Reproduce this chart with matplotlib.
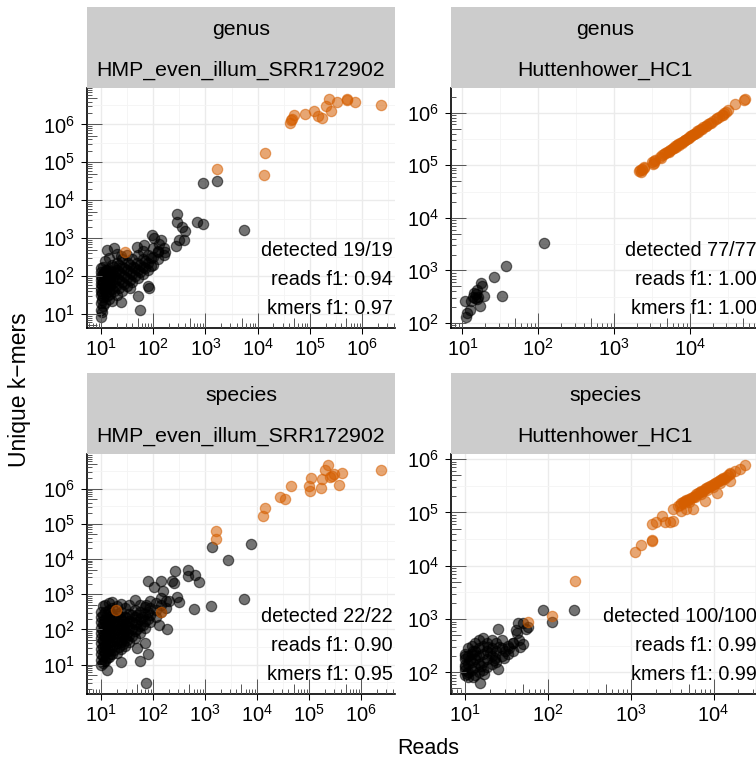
import numpy as np
import matplotlib
matplotlib.use("Agg")
import matplotlib.pyplot as plt
import matplotlib.transforms as mtransforms
from matplotlib.ticker import FixedLocator, FuncFormatter

plt.rcParams['font.family'] = ['Liberation Sans', 'DejaVu Sans']
plt.rcParams['mathtext.fontset'] = 'custom'
plt.rcParams['mathtext.rm'] = 'Liberation Sans'
plt.rcParams['mathtext.it'] = 'Liberation Sans:italic'

# ---------------- data ----------------
ranks = ["genus", "genus", "species", "species"]
samples = ["HMP_even_illum_SRR172902", "Huttenhower_HC1",
           "HMP_even_illum_SRR172902", "Huttenhower_HC1"]
detected = ["detected 19/19", "detected 77/77", "detected 22/22", "detected 100/100"]
reads_f1 = ["reads f1: 0.94", "reads f1: 1.00", "reads f1: 0.90", "reads f1: 0.99"]
kmers_f1 = ["kmers f1: 0.97", "kmers f1: 1.00", "kmers f1: 0.95", "kmers f1: 0.99"]

# (reads, unique k-mers)
tl_black = [
    (910, 28000), (1700, 33000), (5500, 1600), (690, 2600), (910, 2300), (290, 4400),
    (290, 2600), (355, 1950), (415, 1500), (390, 900), (310, 870), (270, 630),
    (96, 1180), (66, 660), (138, 870), (170, 425), (123, 425), (13, 490), (18, 550),
    (49, 600), (24, 345), (82, 48), (80, 56), (50, 30), (57, 13), (24, 21), (10, 8.3),
    (10.5, 11), (36, 50),
    (10, 12.6), (10, 19), (10, 31), (10.2, 40), (10, 50), (10, 63), (10.1, 79), (10, 100),
    (10, 126), (10, 160), (11, 16), (11, 28), (11.2, 45), (11, 71), (11, 112), (11, 178),
    (12, 20), (12.3, 35), (12, 56), (12, 89), (12.4, 141), (12, 250), (14, 25), (14.3, 40),
    (14, 63), (14, 100), (13.8, 158), (14, 300), (16, 22), (16, 45), (16.4, 79), (16, 126),
    (16, 200), (20, 32), (19.5, 56), (20, 89), (20.5, 141), (20, 224), (20, 390), (25, 40),
    (25, 71), (24, 112), (25, 178), (25.5, 282), (32, 56), (31, 89), (32, 141), (33, 224),
    (32, 355), (40, 71), (40, 112), (41, 178), (40, 282), (50, 89), (50, 141), (48, 224),
    (52, 355), (63, 112), (63, 178), (65, 282), (63, 447), (80, 141), (80, 224), (78, 355),
    (100, 200), (100, 316), (100, 562), (102, 1000), (125, 282), (125, 447), (130, 708),
    (160, 355), (160, 562),
    (10.5, 24), (10.5, 36), (10.5, 58), (10.5, 90), (11.5, 130), (13, 30), (13, 50),
    (13, 80), (13, 120), (15, 34), (15, 55), (15, 90), (15, 140), (18, 40), (18, 70),
    (18, 110), (18, 170), (22, 48), (22, 80), (22, 125), (22, 200), (28, 62), (28, 100),
    (28, 160), (36, 80), (36, 125), (36, 200), (45, 100), (45, 160), (56, 125), (56, 200),
    (70, 160), (70, 250), (90, 190), (90, 300),
]
tl_orange = [
    (2.3e6, 3.3e6), (5.1e5, 4.7e6), (5.2e5, 4.3e6), (7.4e5, 3.9e6), (3.3e5, 3.8e6),
    (2.3e5, 4.7e6), (2.0e5, 3.1e6), (2.5e5, 2.2e6), (1.2e5, 2.3e6), (1.4e5, 1.7e6),
    (1.7e5, 1.5e6), (8.0e4, 1.9e6), (5.0e4, 1.8e6), (4.5e4, 1.4e6), (4.2e4, 1.1e6),
    (4.3e4, 1.3e6), (1.4e4, 1.8e5), (1.35e4, 4.6e4), (1.7e3, 6.7e4), (29, 440),
]

tr_black = [
    (120, 3300), (37, 1200), (33, 330), (26, 740), (17.4, 590), (18, 510), (19, 330),
    (17, 208), (15.4, 430), (15, 350), (15.6, 285), (13.9, 320), (12.9, 260), (10.8, 260),
    (12.6, 180), (11.6, 155), (11, 130), (14.2, 370), (16, 310), (14.5, 300),
]
tr_orange = [
    (2150, 78000), (2200, 80000), (2250, 76000), (2300, 83000), (2350, 85000), (2450, 88000),
    (2500, 91000), (3150, 114000), (3200, 108000), (3300, 119000), (3350, 112000),
    (3500, 126000), (4000, 144000), (4100, 138000), (4300, 155000), (4600, 165000),
    (4700, 172000), (4900, 176000), (5200, 186000), (5300, 180000), (5500, 197000),
    (5800, 207000), (5900, 214000), (6100, 218000), (6400, 229000), (6500, 224000),
    (6700, 239000), (7000, 250000), (7100, 244000), (7400, 264000), (7800, 278000),
    (7900, 271000), (8200, 292000), (8600, 306000), (8700, 300000), (9000, 320000),
    (9500, 337000), (9600, 330000), (10000, 355000), (10300, 362000), (10600, 376000),
    (11200, 397000), (11400, 390000), (11800, 418000), (12500, 443000), (12700, 432000),
    (13200, 467000), (14000, 494000), (14300, 485000), (15000, 529000), (16000, 564000),
    (16400, 552000), (17000, 598000), (18500, 650000), (19000, 640000), (20000, 703000),
    (22000, 771000), (23000, 790000), (24000, 840000), (26000, 910000), (27000, 900000),
    (28000, 977000), (30000, 1.047e6), (32000, 1.117e6), (39600, 1.46e6), (51500, 1.78e6),
    (53000, 1.83e6),
]

bl_black = [
    (7700, 26000), (1380, 22000), (2750, 9100), (5500, 710), (1300, 460), (620, 380),
    (480, 5000), (480, 3300), (630, 3600), (760, 2200), (260, 4600), (250, 2100),
    (230, 2300), (290, 830), (320, 600), (142, 2300), (80, 2450), (155, 1230), (103, 1600),
    (74, 510), (200, 640), (129, 138), (186, 100), (71, 41), (80, 20), (57, 13), (49, 30),
    (24.5, 11.7), (13, 7.2), (73, 3.0),
    (10, 10), (10, 14), (10, 20), (10, 28), (10, 40), (10, 56), (10, 79), (10, 112),
    (10, 158), (10, 224), (10, 320), (10.7, 11), (10.7, 18), (10.7, 32), (10.7, 50),
    (10.7, 89), (10.7, 141), (10.7, 250), (10.7, 450), (12, 12.6), (12, 22), (12, 35),
    (12, 63), (12, 100), (12, 178), (12, 316), (12, 500), (14, 16), (14, 25), (14, 45),
    (14, 71), (14, 126), (14, 200), (14, 355), (14, 560), (16.6, 20), (16.6, 32),
    (16.6, 50), (16.6, 89), (16.6, 141), (16.6, 251), (16.6, 400), (16.6, 600), (20, 22),
    (20, 40), (20, 63), (20, 100), (20, 158), (20, 282), (20, 450), (24, 28), (24, 45),
    (24, 79), (24, 126), (24, 200), (24, 316), (24, 520), (29, 35), (29, 56), (29, 89),
    (29, 141), (29, 224), (29, 398), (35, 45), (35, 71), (35, 112), (35, 178), (35, 282),
    (35, 480), (45, 56), (45, 89), (45, 141), (45, 224), (45, 355), (45, 700), (56, 79),
    (56, 126), (56, 200), (56, 316), (56, 500), (71, 112), (71, 178), (71, 282), (71, 447),
    (89, 158), (89, 251), (89, 400), (89, 630), (112, 224), (112, 355), (112, 562),
    (141, 316), (141, 500), (141, 794), (178, 400), (178, 630),
    (11.3, 13), (11.3, 24), (11.3, 40), (11.3, 70), (11.3, 115), (11.3, 190), (13, 15),
    (13, 28), (13, 55), (13, 90), (13, 150), (13, 260), (15, 20), (15, 36), (15, 60),
    (15, 105), (15, 170), (15, 300), (18, 26), (18, 48), (18, 80), (18, 125), (18, 210),
    (22, 32), (22, 55), (22, 90), (22, 140), (22, 240), (26, 38), (26, 65), (26, 105),
    (26, 170), (32, 50), (32, 80), (32, 130), (32, 210), (40, 65), (40, 100), (40, 160),
    (40, 260), (50, 100), (50, 160), (50, 250), (63, 130), (63, 220), (80, 200), (80, 320),
]
bl_orange = [
    (2.4e6, 3.3e6), (2.3e5, 4.7e6), (2.0e5, 3.3e6), (4.3e5, 2.7e6), (2.8e5, 2.3e6),
    (2.5e5, 2.2e6), (1.75e5, 1.9e6), (1.1e5, 2.0e6), (1.7e5, 1.07e6), (9.8e4, 1.2e6),
    (1.05e5, 8.5e5), (3.8e5, 1.23e6), (4.4e4, 1.15e6), (2.75e4, 5.9e5), (3.5e4, 5.0e5),
    (1.4e4, 2.8e5), (1.27e4, 1.66e5), (1.6e3, 6.3e4), (1.6e3, 3.6e4), (19.6, 355),
    (145, 310), (3.0e5, 2.6e6),
]

br_black = [
    (205, 1500), (112, 890), (87, 1470), (57, 700), (55, 650), (50, 850), (44, 850),
    (42, 550), (41, 630), (50, 345), (38, 355), (24.7, 660), (29.5, 186), (25, 116),
    (22.5, 168), (15.2, 63), (12.6, 83), (11, 82),
    (10, 139), (10, 200), (10, 112), (10, 89), (10, 126), (10, 178), (10, 224),
    (11, 100), (11, 141), (11, 200), (11, 282), (12, 112), (12, 158), (12, 224), (12, 316),
    (13.2, 89), (13.2, 126), (13.2, 178), (13.2, 251), (13.2, 355), (14.8, 100),
    (14.8, 141), (14.8, 200), (14.8, 282), (14.8, 398), (16.6, 112), (16.6, 158),
    (16.6, 224), (16.6, 316), (16.6, 447), (18.6, 126), (18.6, 178), (18.6, 251),
    (18.6, 355), (21, 141), (21, 200), (21, 282), (21, 398), (24, 158), (24, 251),
    (24, 355), (28, 200), (28, 282), (28, 398), (33, 224), (33, 316), (38, 251), (38, 355),
    (10.5, 95), (11.5, 170), (12.5, 250), (13.5, 210), (15.5, 130), (17, 95), (19, 300),
    (20, 230), (23, 190), (26, 300), (30, 250), (34, 290), (45, 400), (46, 300),
]
br_orange = [
    (213, 5200), (112, 1130), (57, 890), (1120, 18000), (1320, 25000), (1800, 29000),
    (1800, 31000), (1800, 62000), (2000, 65000), (2400, 85000), (2600, 65000),
    (3000, 65000), (3200, 70000), (3200, 115000), (4000, 107000), (4600, 115000),
    (5700, 115000), (7900, 166000), (11000, 234000), (15800, 390000),
    (3700, 134000), (3900, 141000), (4100, 148000), (4300, 155000), (4500, 161000),
    (4700, 168000), (4900, 175000), (5100, 181000), (5300, 188000), (5600, 198000),
    (5900, 208000), (6200, 218000), (6500, 228000), (6800, 238000), (7100, 248000),
    (7400, 257000), (7800, 270000), (8200, 284000), (8600, 296000), (9000, 309000),
    (9500, 326000), (10000, 342000), (10500, 357000), (11000, 373000), (11500, 390000),
    (12000, 405000), (12500, 421000), (13000, 437000), (14000, 469000), (15000, 500000),
    (16000, 531000), (18000, 593000), (15800, 560000), (20600, 660000), (24000, 780000),
    (4400, 150000), (5000, 160000), (6000, 195000), (7000, 225000), (8400, 265000),
    (9800, 300000), (12000, 360000), (13500, 420000),
]

panels_black = [tl_black, tr_black, bl_black, br_black]
panels_orange = [tl_orange, tr_orange, bl_orange, br_orange]

# ---------------- layout ----------------
W, H = 756, 761
fig = plt.figure(figsize=(W / 100, H / 100), dpi=100)

def add_px_axes(x0, y0, x1, y1):
    return fig.add_axes([x0 / W, 1 - y1 / H, (x1 - x0) / W, (y1 - y0) / H])

panel_boxes = [(87, 88, 395, 328), (451, 88, 759, 328),
               (87, 454, 395, 694), (451, 454, 759, 694)]
strip_h = 81

BLACK = "#000000"
ORANGE = "#D55E00"

def expand_lim(vals):
    l = np.log10(vals)
    lo, hi = l.min(), l.max()
    e = 0.05 * (hi - lo)
    return 10 ** (lo - e), 10 ** (hi + e)

fmt = FuncFormatter(lambda v, p: r"$\mathdefault{10^{%d}}$" % int(round(np.log10(v))))

for i, (x0, y0, x1, y1) in enumerate(panel_boxes):
    ax = add_px_axes(x0, y0, x1, y1)
    pw, ph = x1 - x0, y1 - y0
    b = np.array(panels_black[i], dtype=float)
    o = np.array(panels_orange[i], dtype=float)
    allx = np.concatenate([b[:, 0], o[:, 0]])
    ally = np.concatenate([b[:, 1], o[:, 1]])
    ax.set_xscale("log")
    ax.set_yscale("log")
    xlim = expand_lim(allx)
    ylim = expand_lim(ally)
    ax.set_xlim(*xlim)
    ax.set_ylim(*ylim)

    ax.scatter(b[:, 0], b[:, 1], s=55, c=BLACK, alpha=0.55, edgecolors=BLACK,
               linewidths=0.9, zorder=2)
    ax.scatter(o[:, 0], o[:, 1], s=55, c=ORANGE, alpha=0.55, edgecolors=ORANGE,
               linewidths=0.9, zorder=3)

    for axis, lim in ((ax.xaxis, xlim), (ax.yaxis, ylim)):
        dlo, dhi = int(np.floor(np.log10(lim[0]))), int(np.ceil(np.log10(lim[1])))
        majors = [10.0 ** d for d in range(dlo, dhi + 1) if lim[0] <= 10.0 ** d <= lim[1]]
        minors = [10.0 ** (d + 0.5) for d in range(dlo - 1, dhi + 1)
                  if lim[0] <= 10.0 ** (d + 0.5) <= lim[1]]
        axis.set_major_locator(FixedLocator(majors))
        axis.set_minor_locator(FixedLocator(minors))
        axis.set_major_formatter(fmt)

    ax.set_axisbelow(True)
    ax.grid(True, which="major", color="#EBEBEB", lw=1.0)
    ax.grid(True, which="minor", color="#F4F4F4", lw=0.6)
    ax.tick_params(which="major", direction="out", length=4.3, width=0.75,
                   color="black", labelsize=14.5, labelcolor="black")
    ax.tick_params(axis="x", which="major", pad=3)
    ax.tick_params(axis="y", which="major", pad=4.5)
    ax.tick_params(which="minor", length=0)
    for s in ("top", "right"):
        ax.spines[s].set_visible(False)
    for s in ("left", "bottom"):
        ax.spines[s].set_linewidth(1.2)
        ax.spines[s].set_color("black")

    # log ticks inside (annotation_logticks style)
    for which, lim in (("x", xlim), ("y", ylim)):
        dlo, dhi = int(np.floor(np.log10(lim[0]))), int(np.ceil(np.log10(lim[1])))
        pos, lens = [], []
        for d in range(dlo, dhi + 1):
            for k in range(1, 10):
                v = k * 10.0 ** d
                if lim[0] <= v <= lim[1]:
                    pos.append(v)
                    lens.append(15 if k == 1 else (10 if k == 5 else 5))
        lens = np.array(lens, dtype=float)
        if which == "x":
            tr = mtransforms.blended_transform_factory(ax.transData, ax.transAxes)
            ax.vlines(pos, 0, lens / ph, transform=tr, colors="#555555", lw=0.7, zorder=4)
        else:
            tr = mtransforms.blended_transform_factory(ax.transAxes, ax.transData)
            ax.hlines(pos, 0, lens / pw, transform=tr, colors="#555555", lw=0.7, zorder=4)

    for txt, yy in ((detected[i], 0.298), (reads_f1[i], 0.178), (kmers_f1[i], 0.06)):
        ax.text(0.9935, yy, txt, transform=ax.transAxes, ha="right", va="baseline",
                fontsize=14.3, color="black", zorder=5)

    # strip
    st = add_px_axes(x0, y0 - strip_h, x1, y0)
    st.set_facecolor("#CCCCCC")
    st.set_xticks([])
    st.set_yticks([])
    for sp in st.spines.values():
        sp.set_visible(False)
    st.text(0.5, 0.652, ranks[i], ha="center", va="baseline", fontsize=15.3,
            transform=st.transAxes)
    st.text(0.5, 0.15, samples[i], ha="center", va="baseline", fontsize=15.3,
            transform=st.transAxes)

fig.text(20 / W, 1 - 390 / H, "Unique k\u2212mers", rotation=90, ha="center",
         va="center", fontsize=16.5)
fig.text(428 / W, 1 - 748 / H, "Reads", ha="center", va="center", fontsize=15.5)

fig.savefig("out.png", dpi=100)
